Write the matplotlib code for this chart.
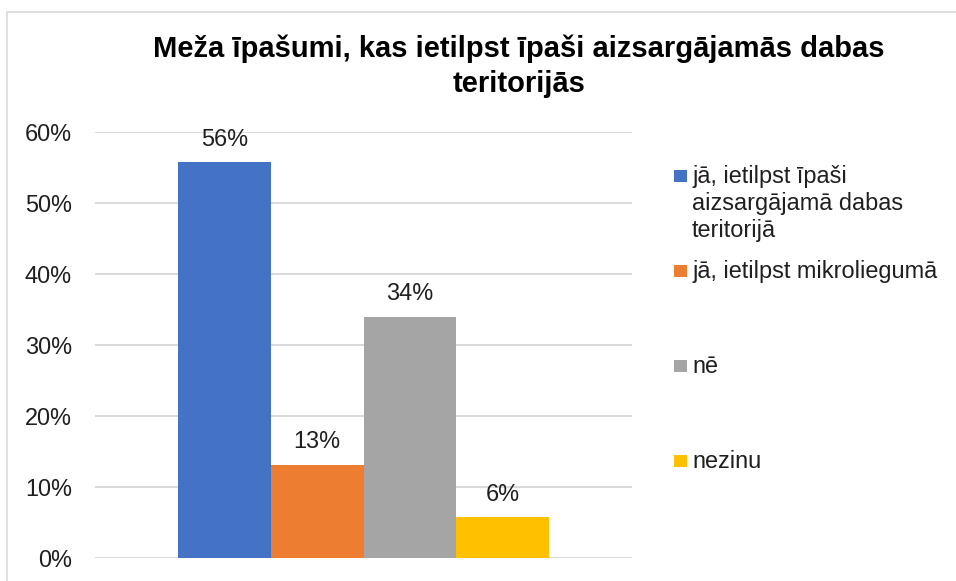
import matplotlib
matplotlib.use("Agg")
import matplotlib.pyplot as plt
from matplotlib.patches import Rectangle

plt.rcParams['font.family'] = ['Liberation Sans', 'DejaVu Sans']

title_lines = ["Meža īpašumi, kas ietilpst īpaši aizsargājamās dabas",
               "teritorijās"]
categories = ["jā, ietilpst īpaši\naizsargājamā dabas\nteritorijā",
              "jā, ietilpst mikroliegumā",
              "nē",
              "nezinu"]
values = [0.557, 0.131, 0.339, 0.057]
value_labels = ["56%", "13%", "34%", "6%"]
yticks = [0.0, 0.1, 0.2, 0.3, 0.4, 0.5, 0.6]
ytick_labels = ["0%", "10%", "20%", "30%", "40%", "50%", "60%"]
colors = ["#4472C4", "#ED7D31", "#A5A5A5", "#FFC000"]

W, H = 956, 581
fig = plt.figure(figsize=(W / 100, H / 100), dpi=100)
fig.patch.set_facecolor("white")

ax_left, ax_right = 95, 632
ax_top, ax_bottom = 131.7, 557.7
ax = fig.add_axes([ax_left / W, 1 - ax_bottom / H, (ax_right - ax_left) / W, (ax_bottom - ax_top) / H])

text_color = "#1f1f1f"
fs = 16.9

x = list(range(len(values)))
bars = ax.bar(x, values, width=1.0, color=colors, zorder=3)
span_units = 4.0 / (549 - 178) * (ax_right - ax_left)
ax.set_xlim(1.5 - span_units / 2, 1.5 + span_units / 2)
ax.set_ylim(0, 0.6)
ax.set_yticks(yticks)
ax.set_yticklabels(ytick_labels, fontsize=fs, color=text_color)
ax.set_xticks([])
ax.tick_params(axis="y", length=0, pad=16.6)
ax.grid(axis="y", color="#d9d9d9", linewidth=1.4, zorder=0)
for s in ax.spines.values():
    s.set_visible(False)

for b, lab in zip(bars, value_labels):
    ax.annotate(lab, (b.get_x() + b.get_width() / 2, b.get_height()),
                xytext=(0, 11.9), textcoords="offset points",
                ha="center", va="baseline", fontsize=fs, color=text_color)

# Title (two lines)
title_baselines = [57.0, 92.0]
for line, bl in zip(title_lines, title_baselines):
    fig.text(519 / W, 1 - bl / H, line, ha="center", va="baseline",
             fontsize=21, fontweight="bold", color="black")

# Legend (manual placement like Excel)
marker_x = 674
text_x = 692
baselines = [183.3, 278, 373, 468]
for cat, col, bl in zip(categories, colors, baselines):
    fig.add_artist(Rectangle((marker_x / W, 1 - (bl - 1) / H), 12.5 / W, 12.5 / H,
                             transform=fig.transFigure, facecolor=col, edgecolor="none"))
    for i, line in enumerate(cat.split("\n")):
        fig.text(text_x / W, 1 - (bl + 27 * i) / H, line, ha="left", va="baseline",
                 fontsize=fs, color=text_color)

# Chart frame
fig.add_artist(Rectangle((7 / W, -0.2), 2, (H - 11.7) / H + 0.2,
                         transform=fig.transFigure, fill=False,
                         edgecolor="#d9d9d9", linewidth=1.2))

fig.savefig("out.png", dpi=100)
